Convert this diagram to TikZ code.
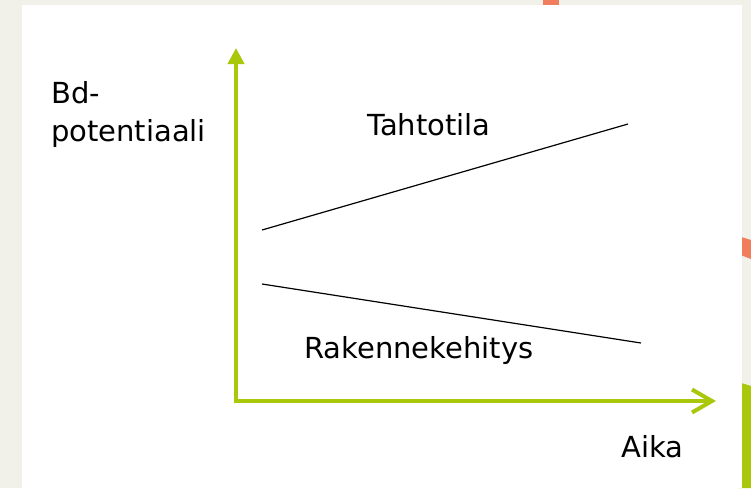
\documentclass[tikz,border=0pt]{standalone}
\usepackage{fontspec}
\setmainfont{DejaVu Sans}
\usetikzlibrary{arrows.meta}
\definecolor{bgbeige}{HTML}{F2F1E9}
\definecolor{axisgreen}{HTML}{A9C80B}
\definecolor{accentorange}{HTML}{F07D5B}
\tikzset{
  lbl/.style={anchor=base west, inner sep=0pt, font=\fontsize{29}{33}\selectfont, text=black},
  axis/.style={draw=axisgreen, line width=4pt},
  trend/.style={draw=black, line width=1.2pt}
}
\begin{document}
\begin{tikzpicture}[x=1pt,y=-1pt]
\useasboundingbox (0,0) rectangle (751,488);
\fill[bgbeige] (0,0) rectangle (751,488);
% slide decorations
\fill[accentorange] (543,0) rectangle (559,8);
\fill[accentorange] (738,236) -- (751,240) -- (751,259) -- (738,254) -- cycle;
\fill[axisgreen] (738,382) -- (751,386) -- (751,488) -- (738,488) -- cycle;
\fill[white] (22,5) rectangle (742,488);
% axes
\coordinate (orig) at (236,401);
\coordinate (ytop) at (236,48);
\coordinate (xend) at (716,401);
\coordinate (corner) at (234,401);
\draw[axis, -{Triangle[width=16pt,length=16pt]}] (236,403) -- (ytop);
\draw[axis, -{Straight Barb[length=20pt,width=23pt,line width=4pt]}] (corner) -- (xend);
% trend lines
\coordinate (t1) at (262,230);
\coordinate (t2) at (628,124);
\coordinate (r1) at (262,284);
\coordinate (r2) at (641,343);
\draw[trend] (t1) -- (t2);
\draw[trend] (r1) -- (r2);
% labels
\node[lbl] (bd) at (51,103) {Bd-};
\node[lbl] (pot) at (51,141) {potentiaali};
\node[lbl] (taht) at (367,135) {Tahtotila};
\node[lbl] (rak) at (304,358) {Rakennekehitys};
\node[lbl] (aika) at (621,457) {Aika};
\end{tikzpicture}
\end{document}
